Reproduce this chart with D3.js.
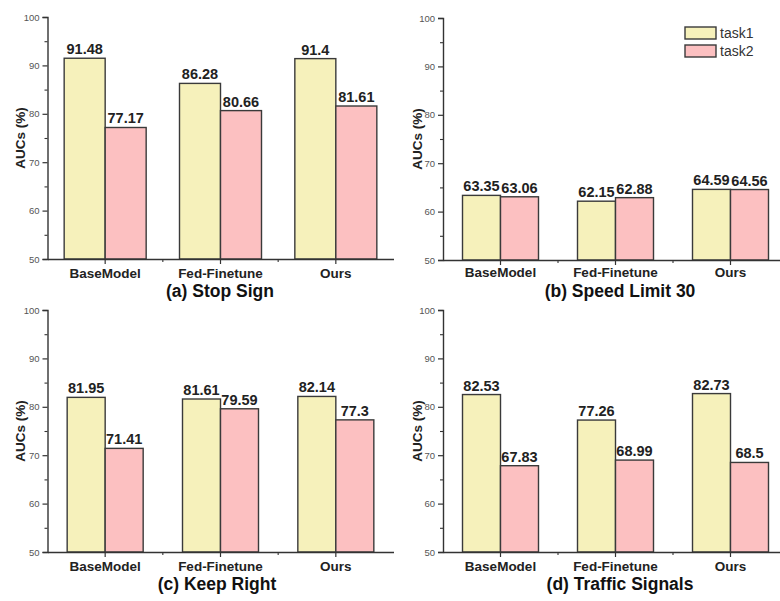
<!DOCTYPE html>
<html>
<head>
<meta charset="utf-8">
<script src="https://cdn.jsdelivr.net/npm/d3@7/dist/d3.min.js"></script>
<style>
  html, body { margin: 0; padding: 0; background: #fff; }
  svg { display: block; font-family: "Liberation Sans", Arial, sans-serif; }
</style>
</head>
<body>
<svg id="chart" width="780" height="601"></svg>
<script>
// Methods compared on each traffic-sign class
const categories = ["BaseModel", "Fed-Finetune", "Ours"];
const seriesNames = ["task1", "task2"];
const panelTitles = ["(a) Stop Sign", "(b) Speed Limit 30", "(c) Keep Right", "(d) Traffic Signals"];

// AUC (%) per panel, one entry per method
const task1Values = [
  [91.48, 86.28, 91.4],
  [63.35, 62.15, 64.59],
  [81.95, 81.61, 82.14],
  [82.53, 77.26, 82.73]
];
const task2Values = [
  [77.17, 80.66, 81.61],
  [63.06, 62.88, 64.56],
  [71.41, 79.59, 77.3],
  [67.83, 68.99, 68.5]
];
const yTicks = [50, 60, 70, 80, 90, 100];
const yMinorTicks = [55, 65, 75, 85, 95];
const yDomain = [50, 100];

const colors = { task1: "#f6f1bb", task2: "#fcc0c1" };
const strokeColor = "#3a3a3a";

// Placement of each small chart
const layout = [
  { x0: 47.5, x1: 393.5, yTop: 17, yBot: 259, barW: 41, titleX: 220, titleY: 297, catY: 278, axTitleX: 20 },
  { x0: 443, x1: 788, yTop: 18, yBot: 260, barW: 38, titleX: 620, titleY: 297, catY: 277, axTitleX: 417 },
  { x0: 47.5, x1: 393.5, yTop: 310, yBot: 552, barW: 38, titleX: 217, titleY: 590, catY: 571, axTitleX: 20 },
  { x0: 443, x1: 788, yTop: 310, yBot: 552, barW: 38, titleX: 620, titleY: 590, catY: 571, axTitleX: 417 }
];

const svg = d3.select("#chart");

layout.forEach((L, i) => {
  const g = svg.append("g");
  const x = d3.scaleBand().domain(categories).range([L.x0, L.x1]).padding(0);
  const y = d3.scaleLinear().domain(yDomain).range([L.yBot, L.yTop]);

  const rows = categories.map((c, k) => ({ cat: c, task1: task1Values[i][k], task2: task2Values[i][k] }));

  // bars
  seriesNames.forEach((s, si) => {
    g.selectAll(null).data(rows).enter().append("rect")
      .attr("x", d => x(d.cat) + x.bandwidth() / 2 + (si === 0 ? -L.barW : 0))
      .attr("y", d => y(d[s]))
      .attr("width", L.barW)
      .attr("height", d => y(yDomain[0]) - y(d[s]))
      .attr("fill", colors[s])
      .attr("stroke", strokeColor)
      .attr("stroke-width", 1.4);

    g.selectAll(null).data(rows).enter().append("text")
      .attr("x", d => x(d.cat) + x.bandwidth() / 2 + (si === 0 ? -L.barW / 2 : L.barW / 2))
      .attr("y", d => y(d[s]) - 4)
      .attr("text-anchor", "middle")
      .attr("font-size", 14.5)
      .attr("font-weight", "bold")
      .attr("fill", "#222")
      .text(d => String(d[s]));
  });

  // y axis
  const yAxis = d3.axisLeft(y).tickValues(yTicks).tickSize(5).tickPadding(3).tickFormat(d3.format("d"));
  const ya = g.append("g").attr("transform", `translate(${L.x0},0)`).call(yAxis);
  ya.select(".domain").attr("stroke", "#333").attr("stroke-width", 1.4);
  ya.selectAll(".tick line").attr("stroke", "#333").attr("stroke-width", 1.2);
  ya.selectAll(".tick text").attr("font-size", 9.5).attr("fill", "#555")
    .attr("font-family", "'Liberation Sans', Arial, sans-serif");
  const yMinor = d3.axisLeft(y).tickValues(yMinorTicks).tickSize(3).tickFormat("");
  const ym = g.append("g").attr("transform", `translate(${L.x0},0)`).call(yMinor);
  ym.select(".domain").remove();
  ym.selectAll(".tick line").attr("stroke", "#333").attr("stroke-width", 1.1);

  // x axis
  const xAxis = d3.axisBottom(x).tickSize(5).tickSizeOuter(0).tickPadding(4);
  const xa = g.append("g").attr("transform", `translate(0,${L.yBot})`).call(xAxis);
  xa.select(".domain").attr("stroke", "#333").attr("stroke-width", 1.4);
  xa.selectAll(".tick line").attr("stroke", "#333").attr("stroke-width", 1.2);
  xa.selectAll(".tick text").remove();
  // small ticks between the method groups
  g.selectAll(null).data(categories.slice(1)).enter().append("line")
    .attr("x1", d => x(d)).attr("x2", d => x(d))
    .attr("y1", L.yBot).attr("y2", L.yBot + 3)
    .attr("stroke", "#333").attr("stroke-width", 1.1);

  // category labels
  g.selectAll(null).data(categories).enter().append("text")
    .attr("x", d => x(d) + x.bandwidth() / 2)
    .attr("y", L.catY)
    .attr("text-anchor", "middle")
    .attr("font-size", 13.5)
    .attr("font-weight", "bold")
    .attr("fill", "#222")
    .text(d => d);

  // y axis title
  g.append("text")
    .attr("transform", `translate(${L.axTitleX + 5},${(L.yTop + L.yBot) / 2}) rotate(-90)`)
    .attr("text-anchor", "middle")
    .attr("font-size", 13.5)
    .attr("font-weight", "bold")
    .attr("fill", "#222")
    .text("AUCs (%)");

  // panel title
  g.append("text")
    .attr("x", L.titleX)
    .attr("y", L.titleY)
    .attr("text-anchor", "middle")
    .attr("font-size", 17.5)
    .attr("font-weight", "bold")
    .attr("fill", "#111")
    .text(panelTitles[i]);
});

// legend
const legend = svg.append("g").attr("transform", "translate(685,27)");
seriesNames.forEach((s, k) => {
  const row = legend.append("g").attr("transform", `translate(0,${k * 18})`);
  row.append("rect").attr("width", 31).attr("height", 12)
    .attr("fill", colors[s]).attr("stroke", strokeColor).attr("stroke-width", 1.4);
  row.append("text").attr("x", 35).attr("y", 11)
    .attr("font-size", 14).attr("fill", "#333").text(s);
});
</script>
</body>
</html>
